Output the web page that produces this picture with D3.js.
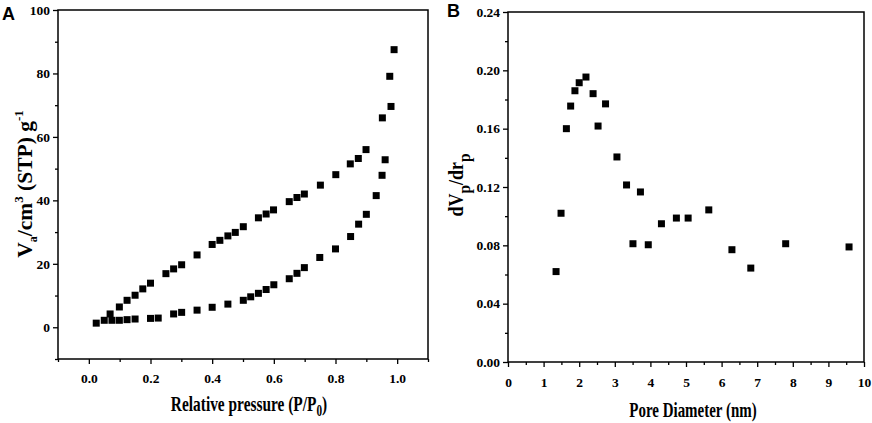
<!DOCTYPE html>
<html>
<head>
<meta charset="utf-8">
<script src="https://cdn.jsdelivr.net/npm/d3@7"></script>
<style>
  body { margin: 0; background: #fff; }
  svg { display: block; }
  text { font-family: "Liberation Serif", "Times New Roman", serif; font-weight: bold; fill: #000; }
  .panel-letter { font-family: "Liberation Sans", Arial, sans-serif; font-size: 18px; }
</style>
</head>
<body>
<svg width="872" height="423"></svg>
<script>
// Panel A: N2 isotherm (relative pressure vs adsorbed volume)
const adsX = [0.024, 0.05, 0.075, 0.099, 0.124, 0.15, 0.2, 0.225, 0.275, 0.301, 0.351, 0.4, 0.451, 0.501, 0.525, 0.55, 0.575, 0.6, 0.65, 0.675, 0.699, 0.749, 0.8, 0.849, 0.875, 0.9, 0.932, 0.951, 0.961];
const adsY = [1.3, 2.2, 2.2, 2.2, 2.4, 2.6, 2.8, 2.9, 4.2, 4.7, 5.4, 6.3, 7.3, 8.5, 9.6, 10.7, 11.9, 13.4, 15.3, 17.0, 18.8, 22.0, 24.7, 28.6, 32.5, 35.6, 41.5, 47.9, 52.8];
const desX = [0.99, 0.976, 0.98, 0.952, 0.899, 0.874, 0.848, 0.801, 0.751, 0.699, 0.675, 0.65, 0.599, 0.575, 0.55, 0.501, 0.475, 0.451, 0.425, 0.4, 0.351, 0.301, 0.275, 0.25, 0.2, 0.175, 0.15, 0.124, 0.099, 0.069];
const desY = [87.5, 79.1, 69.6, 66.0, 56.0, 53.2, 51.5, 48.1, 44.8, 42.0, 40.9, 39.6, 37.0, 35.7, 34.5, 31.7, 29.9, 28.8, 27.4, 26.1, 22.8, 19.7, 18.4, 16.9, 13.9, 12.1, 10.1, 8.5, 6.4, 4.2];

// Panel B: pore size distribution
const poreX = [1.35, 1.49, 1.64, 1.76, 1.88, 2.0, 2.19, 2.39, 2.53, 2.74, 3.06, 3.33, 3.51, 3.72, 3.94, 4.31, 4.73, 5.06, 5.64, 6.29, 6.82, 7.8, 9.58];
const poreY = [0.062, 0.102, 0.160, 0.1755, 0.186, 0.1915, 0.1954, 0.184, 0.1618, 0.177, 0.1406, 0.1214, 0.0811, 0.1166, 0.0804, 0.0948, 0.0987, 0.0987, 0.1043, 0.077, 0.0644, 0.0811, 0.0789];

// tick values (major = labelled, minor = short unlabelled)
const aXMajor = [0, 0.2, 0.4, 0.6, 0.8, 1.0];
const aXMinor = [-0.1, 0.1, 0.3, 0.5, 0.7, 0.9, 1.1];
const aYMajor = [0, 20, 40, 60, 80, 100];
const aYMinor = [-10, 10, 30, 50, 70, 90];
const bXMajor = [0, 1, 2, 3, 4, 5, 6, 7, 8, 9, 10];
const bXMinor = [0.5, 1.5, 2.5, 3.5, 4.5, 5.5, 6.5, 7.5, 8.5, 9.5];
const bYMajor = [0, 0.04, 0.08, 0.12, 0.16, 0.2, 0.24];
const bYMinor = [0.02, 0.06, 0.1, 0.14, 0.18, 0.22];

const svg = d3.select("svg");
const sq = 7;
const serif = '"Liberation Serif", "Times New Roman", serif';

const styleAxis = (sel) => {
  sel.attr("font-family", serif).attr("font-size", 13.5).attr("font-weight", "bold");
  sel.select(".domain").remove();
  sel.selectAll("line").attr("stroke-width", 1.3);
  sel.selectAll("text").style("font-size", "13.5px");
};

const drawPanel = (cfg) => {
  const g = svg.append("g");
  const x = d3.scaleLinear().domain(cfg.xDomain).range([cfg.left, cfg.right]);
  const y = d3.scaleLinear().domain(cfg.yDomain).range([cfg.bottom, cfg.top]);

  const xMaj = g.append("g")
    .attr("transform", "translate(0," + cfg.bottom + ")")
    .call(d3.axisBottom(x).tickValues(cfg.xMajor).tickSizeInner(5).tickSizeOuter(0)
      .tickPadding(cfg.xPad).tickFormat(cfg.xFmt));
  styleAxis(xMaj);
  const xMin = g.append("g")
    .attr("transform", "translate(0," + cfg.bottom + ")")
    .call(d3.axisBottom(x).tickValues(cfg.xMinor).tickSizeInner(3).tickSizeOuter(0).tickFormat(""));
  styleAxis(xMin);

  const yMaj = g.append("g")
    .attr("transform", "translate(" + cfg.left + ",0)")
    .call(d3.axisLeft(y).tickValues(cfg.yMajor).tickSizeInner(5).tickSizeOuter(0)
      .tickPadding(cfg.yPad).tickFormat(cfg.yFmt));
  styleAxis(yMaj);
  const yMin = g.append("g")
    .attr("transform", "translate(" + cfg.left + ",0)")
    .call(d3.axisLeft(y).tickValues(cfg.yMinor).tickSizeInner(3).tickSizeOuter(0).tickFormat(""));
  styleAxis(yMin);

  g.append("rect")
    .attr("x", cfg.left).attr("y", cfg.top)
    .attr("width", cfg.right - cfg.left).attr("height", cfg.bottom - cfg.top)
    .attr("fill", "none").attr("stroke", "#000").attr("stroke-width", 1.5);

  cfg.series.forEach((s) => {
    g.selectAll(null)
      .data(s.xs.map((v, i) => [v, s.ys[i]]))
      .enter()
      .append("rect")
      .attr("x", (d) => x(d[0]) - sq / 2)
      .attr("y", (d) => y(d[1]) - sq / 2)
      .attr("width", sq)
      .attr("height", sq)
      .attr("fill", "#000");
  });
  return { g, x, y };
};

// Panel A
drawPanel({
  left: 58, right: 428, top: 10, bottom: 359,
  xDomain: [-0.1, 1.1], yDomain: [-10, 100],
  xMajor: aXMajor, xMinor: aXMinor, xFmt: d3.format(".1f"), xPad: 9,
  yMajor: aYMajor, yMinor: aYMinor, yFmt: d3.format("d"), yPad: 3,
  series: [{ xs: adsX, ys: adsY }, { xs: desX, ys: desY }]
});

// Panel B
drawPanel({
  left: 508, right: 864, top: 12, bottom: 362,
  xDomain: [0, 10], yDomain: [0, 0.24],
  xMajor: bXMajor, xMinor: bXMinor, xFmt: d3.format("d"), xPad: 10,
  yMajor: bYMajor, yMinor: bYMinor, yFmt: d3.format(".2f"), yPad: 3,
  series: [{ xs: poreX, ys: poreY }]
});

// panel letters
svg.append("text").attr("class", "panel-letter").attr("x", 2).attr("y", 20).text("A");
svg.append("text").attr("class", "panel-letter").attr("x", 447).attr("y", 17).text("B");

// axis titles, panel A (the original lettering is condensed)
const ax = svg.append("text")
  .attr("transform", "translate(249,411) scale(0.7,1)")
  .attr("text-anchor", "middle").style("font-size", "22px");
ax.append("tspan").text("Relative pressure (P/P");
ax.append("tspan").style("font-size", "16px").attr("dy", 5).text("0");
ax.append("tspan").attr("dy", -5).text(")");

const ay = svg.append("text")
  .attr("transform", "translate(32,184) rotate(-90)")
  .attr("text-anchor", "middle").style("font-size", "21.5px");
ay.append("tspan").text("V");
ay.append("tspan").style("font-size", "12px").attr("dy", 5).text("a");
ay.append("tspan").attr("dy", -5).text("/cm");
ay.append("tspan").style("font-size", "13px").attr("dy", -9).text("3");
ay.append("tspan").attr("dy", 9).text(" (STP) g");
ay.append("tspan").style("font-size", "13px").attr("dy", -9).text("-1");

// axis titles, panel B
svg.append("text")
  .attr("transform", "translate(693,417) scale(0.68,1)")
  .attr("text-anchor", "middle").style("font-size", "22px")
  .text("Pore Diameter (nm)");

const by = svg.append("text")
  .attr("transform", "translate(463,185) rotate(-90) scale(0.9,1)")
  .attr("text-anchor", "middle").style("font-size", "20px");
by.append("tspan").text("dV");
by.append("tspan").style("font-size", "17px").attr("dy", 7).text("p");
by.append("tspan").attr("dy", -7).text("/dr");
by.append("tspan").style("font-size", "17px").attr("dy", 7).text("p");
</script>
</body>
</html>
